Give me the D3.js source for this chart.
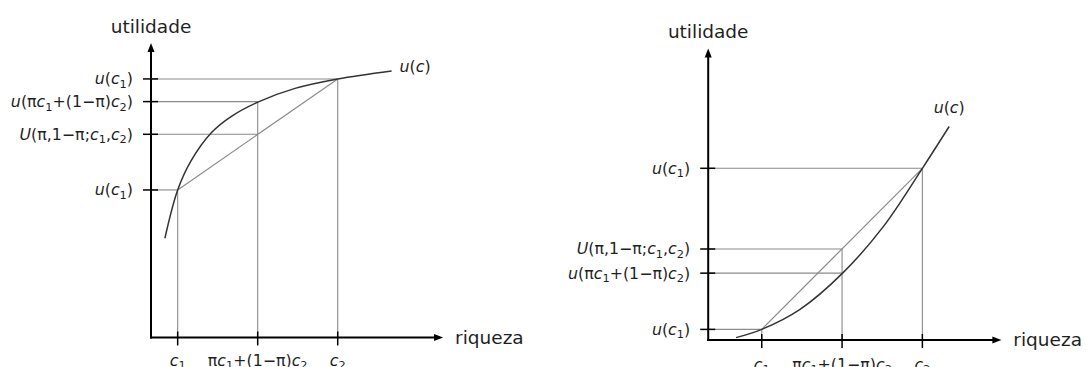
<!DOCTYPE html>
<html>
<head>
<meta charset="utf-8">
<script src="https://cdn.jsdelivr.net/npm/d3@7"></script>
<style>
  html, body { margin: 0; padding: 0; background: #ffffff; }
  svg { display: block; }
  text { font-family: "DejaVu Sans", sans-serif; fill: #1f1f1f; }
</style>
</head>
<body>
<svg id="chart" width="1086" height="367"></svg>
<script>
// ---------------- DATA ----------------
// Left panel: concave utility (risk averse)
const leftCurveWealth  = [0.52, 1, 1.5, 2.28, 3.03, 4.05, 5.4, 7, 9.02];
const leftCurveUtility = [3.37, 5.01, 6.0, 6.97, 7.52, 8.01, 8.46, 8.78, 9.05];
const leftWealthMarks  = [1, 4, 7];                 // c1, pi*c1+(1-pi)*c2, c2
const leftUtilityMarks = [8.78, 8.01, 6.90, 5.01];  // u(c2), u(mid), U, u(c1)

// Right panel: convex utility (risk lover)
const rightCurveWealth  = [1.04, 2, 3.43, 5.02, 6.54, 8, 9];
const rightCurveUtility = [0.08, 0.36, 1.04, 2.27, 3.85, 5.83, 7.25];
const rightWealthMarks  = [2, 5, 8];
const rightUtilityMarks = [5.83, 3.09, 2.27, 0.36]; // u(c2), U, u(mid), u(c1)

// Tick labels ("_" marks a subscript character)
const xTickLabels      = ["c_1", "πc_1+(1−π)c_2", "c_2"];
const leftYTickLabels  = ["u(c_1)", "u(πc_1+(1−π)c_2)", "U(π,1−π;c_1,c_2)", "u(c_1)"];
const rightYTickLabels = ["u(c_1)", "U(π,1−π;c_1,c_2)", "u(πc_1+(1−π)c_2)", "u(c_1)"];
const axisTitleY = "utilidade";
const axisTitleX = "riqueza";
const curveLabel = "u(c)";

// ---------------- LAYOUT ----------------
const panels = [
  { xr: [151, 444.4], yr: [337.5, 43.0], yTop: 10, xEnd: 10.95,
    cw: leftCurveWealth, cu: leftCurveUtility,
    wm: leftWealthMarks, um: leftUtilityMarks, yl: leftYTickLabels,
    chord: [[leftWealthMarks[0], leftUtilityMarks[3]], [leftWealthMarks[2], leftUtilityMarks[0]]],
    pts: [[0,3],[1,1],[1,2],[2,0]],
    xlOff: 28, curveLab: { dx: 8, dy: 1, anchor: "start" } },
  { xr: [708.2, 1002.7], yr: [340, 45.5], yTop: 9.9, xEnd: 10.95,
    cw: rightCurveWealth, cu: rightCurveUtility,
    wm: rightWealthMarks, um: rightUtilityMarks, yl: rightYTickLabels,
    chord: [[rightWealthMarks[0], rightUtilityMarks[3]], [rightWealthMarks[2], rightUtilityMarks[0]]],
    pts: [[0,3],[1,2],[1,1],[2,0]],
    xlOff: 29.5, curveLab: { dx: 0, dy: -13, anchor: "middle" } }
];

const svg = d3.select("#chart");
const mathSize = 15.8;

function mathText(g, str, size) {
  const parts = [];
  for (let i = 0; i < str.length; i++) {
    const ch = str[i];
    if (ch === "_") { parts.push({ t: str[i + 1], sub: true }); i++; }
    else parts.push({ t: ch, it: "ucU".includes(ch) });
  }
  let shift = 0;
  parts.forEach(p => {
    const ts = g.append("tspan").text(p.t);
    if (p.it) ts.attr("font-style", "italic");
    const target = p.sub ? size * 0.22 : 0;
    if (target !== shift) { ts.attr("dy", target - shift); shift = target; }
    if (p.sub) ts.attr("font-size", size * 0.72);
  });
}

function arrowHead(g, x, y, dir) {
  const L = 9, W = 3.5;
  let pts;
  if (dir === "up") pts = [[x, y], [x - W, y + L], [x + W, y + L]];
  else pts = [[x, y], [x - L, y - W], [x - L, y + W]];
  g.append("path").attr("d", "M" + pts.map(p => p.join(",")).join("L") + "Z").attr("fill", "#000");
}

panels.forEach(P => {
  const x = d3.scaleLinear().domain([0, 11]).range(P.xr);
  const y = d3.scaleLinear().domain([0, 10]).range(P.yr);
  const g = svg.append("g");
  const x0 = x(0), y0 = y(0);
  const guide = "#8a8a8a";

  // guide lines
  P.pts.forEach(([wi, ui]) => {
    g.append("line").attr("x1", x0).attr("x2", x(P.wm[wi])).attr("y1", y(P.um[ui])).attr("y2", y(P.um[ui]))
      .attr("stroke", guide).attr("stroke-width", 1.1);
  });
  P.wm.forEach((w, wi) => {
    const uiTop = d3.max(P.pts.filter(p => p[0] === wi), p => P.um[p[1]]);
    g.append("line").attr("x1", x(w)).attr("x2", x(w)).attr("y1", y(uiTop)).attr("y2", y0)
      .attr("stroke", guide).attr("stroke-width", 1.1);
  });
  // chord
  g.append("line").attr("x1", x(P.chord[0][0])).attr("y1", y(P.chord[0][1]))
    .attr("x2", x(P.chord[1][0])).attr("y2", y(P.chord[1][1]))
    .attr("stroke", guide).attr("stroke-width", 1.2);

  // utility curve
  const line = d3.line().x(d => x(d[0])).y(d => y(d[1])).curve(d3.curveCatmullRom.alpha(0.5));
  const data = P.cw.map((w, i) => [w, P.cu[i]]);
  g.append("path").attr("d", line(data)).attr("fill", "none").attr("stroke", "#333").attr("stroke-width", 1.5);
  const last = data[data.length - 1];
  const cl = g.append("text").attr("x", x(last[0]) + P.curveLab.dx).attr("y", y(last[1]) + P.curveLab.dy)
    .attr("text-anchor", P.curveLab.anchor).attr("font-size", mathSize);
  mathText(cl, curveLabel, mathSize);

  // axes
  const yTopPx = y(P.yTop), xEndPx = x(P.xEnd);
  g.append("line").attr("x1", x0).attr("x2", x0).attr("y1", y0 + 1).attr("y2", yTopPx + 6).attr("stroke", "#000").attr("stroke-width", 2);
  g.append("line").attr("x1", x0 - 1).attr("x2", xEndPx - 6).attr("y1", y0).attr("y2", y0).attr("stroke", "#000").attr("stroke-width", 2);
  arrowHead(g, x0, yTopPx, "up");
  arrowHead(g, xEndPx, y0, "right");

  // y ticks + labels
  P.um.forEach((u, i) => {
    g.append("line").attr("x1", x0 - 8).attr("x2", x0 + 7).attr("y1", y(u)).attr("y2", y(u)).attr("stroke", "#000").attr("stroke-width", 1.5);
    const t = g.append("text").attr("x", x0 - 18).attr("y", y(u) + 5.5).attr("text-anchor", "end").attr("font-size", mathSize);
    mathText(t, P.yl[i], mathSize);
  });
  // x ticks + labels
  P.wm.forEach((w, i) => {
    g.append("line").attr("x1", x(w)).attr("x2", x(w)).attr("y1", y0 - 6).attr("y2", y0 + 8).attr("stroke", "#000").attr("stroke-width", 1.5);
    const t = g.append("text").attr("x", x(w)).attr("y", y0 + P.xlOff).attr("text-anchor", "middle").attr("font-size", mathSize);
    mathText(t, xTickLabels[i], mathSize);
  });

  // axis titles
  g.append("text").attr("x", x0).attr("y", yTopPx - 10).attr("text-anchor", "middle").attr("font-size", 18.5).text(axisTitleY);
  g.append("text").attr("x", xEndPx + 12).attr("y", y0 + 6).attr("text-anchor", "start").attr("font-size", 18.5).text(axisTitleX);
});
</script>
</body>
</html>
